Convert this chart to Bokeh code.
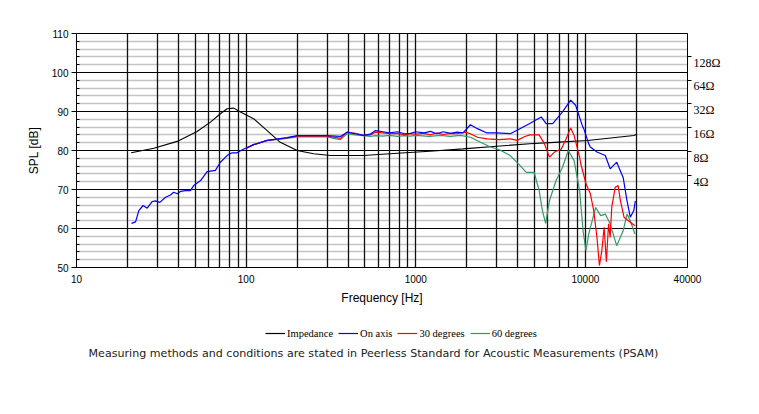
import numpy as np
from bokeh.plotting import figure
from bokeh.layouts import column
from bokeh.models import (Range1d, LogScale, LogAxis, FixedTicker, Legend, LegendItem,
                          Label, CustomJSTickFormatter)
from bokeh.embed import file_html
from bokeh.resources import INLINE

# ---- data ----
freq_imp = [21, 28.6, 39.2, 51.4, 61.6, 70.5, 77.2, 84.5, 92.6, 110.7, 133, 159, 200, 250,
            315, 490, 780, 1210, 1900, 3000, 4700, 7000, 10300, 19300, 20000]
imp_ohm = [7.75, 8.86, 10.8, 14.4, 18.9, 24.1, 27.9, 28.4, 25.3, 20.9, 14.8, 10.5, 8.28, 7.53,
           7.16, 7.16, 7.66, 8.12, 8.70, 9.39, 10.07, 10.56, 11.09, 12.82, 13.2]

freq_on = [21.1, 22.3, 23.3, 24.7, 26.1, 27.9, 29.2, 31.0, 33.5, 35.8, 37.4, 39.2, 41, 43.9,
           46.9, 49.1, 53.9, 58.9, 65.9, 70.5, 77.2, 82.6, 88.3, 96.9, 110.7, 132.9, 174, 200,
           300, 360, 393, 440, 490, 540, 580, 640, 700, 780, 860, 930, 1000, 1120, 1220, 1330,
           1450, 1600, 1750, 1900, 2100, 2310, 2630, 3000, 3610, 4110, 4700, 5490, 5870, 6420,
           7330, 8190, 8760, 9570, 9780, 10470, 10700, 11700, 13100, 14000, 15300, 16700,
           17600, 18400, 19300, 19700]
spl_on = [61.3, 61.7, 64.6, 65.9, 65.2, 66.9, 67.1, 66.7, 68.0, 68.6, 69.3, 68.9, 69.5, 69.7,
          69.7, 71.0, 72.3, 74.6, 74.9, 77.0, 78.7, 79.4, 79.4, 80.4, 81.5, 82.6, 83.3, 83.8,
          83.8, 83.6, 84.7, 84.3, 83.9, 84.2, 85.1, 84.8, 84.5, 84.8, 84.3, 84.4, 84.8, 84.5,
          84.9, 84.3, 84.8, 84.4, 84.7, 84.5, 86.6, 85.6, 84.5, 84.5, 84.3, 85.6, 86.9, 88.6,
          86.9, 86.9, 89.9, 92.9, 91.6, 86.5, 85.6, 81.7, 80.9, 79.6, 78.7, 75.3, 77.0, 73.1,
          67.1, 62.9, 64.6, 67.1]

freq_30 = [100, 110.7, 133, 174, 200, 300, 340, 360, 393, 440, 490, 540, 580, 640, 700, 780,
           860, 930, 1000, 1120, 1220, 1330, 1450, 1600, 1750, 1960, 2100, 2310, 2630, 3110,
           3610, 3960, 4400, 4700, 5340, 5740, 6140, 6580, 7220, 7700, 8190, 8580, 9250, 9390,
           10100, 10700, 11200, 11700, 12100, 12500, 12900, 13300, 13700, 14000, 14300, 15000,
           15600, 16100, 16900, 18400, 19600]
spl_30 = [80.5, 81.5, 82.6, 83.2, 83.7, 83.7, 83.3, 83.1, 84.7, 84.4, 83.9, 84.0, 84.7, 84.5,
          84.3, 84.4, 84.0, 84.3, 84.2, 84.4, 84.0, 84.5, 84.1, 84.4, 84.3, 84.7, 84.3, 83.4,
          83.0, 82.8, 83.0, 82.6, 83.6, 84.0, 84.0, 81.7, 78.3, 79.6, 80.4, 83.0, 85.8, 83.9,
          78.3, 76.6, 71.4, 68.9, 64.6, 57.7, 50.5, 54.3, 60.3, 51.5, 61.2, 57.7, 65.4, 70.6,
          71.0, 67.1, 62.9, 61.6, 60.7]

freq_60 = [100, 110.7, 133, 174, 200, 300, 340, 360, 393, 440, 490, 540, 580, 640, 700, 780,
           860, 930, 1000, 1200, 1400, 1600, 1830, 2100, 2410, 2760, 3110, 3610, 4110, 4480,
           4990, 5340, 5580, 5830, 6140, 6720, 7330, 7930, 8580, 9250, 9690, 10080, 10470,
           11500, 12300, 13100, 14000, 15300, 16700, 17600, 18400, 19600]
spl_60 = [80.5, 81.5, 82.5, 83.1, 83.5, 83.5, 83.0, 82.8, 84.3, 84.0, 83.8, 83.6, 83.8, 83.7,
          83.9, 83.6, 83.8, 83.7, 83.9, 83.6, 83.9, 83.6, 83.9, 83.4, 82.1, 80.9, 80.2, 78.7,
          76.2, 74.4, 74.4, 69.7, 64.6, 61.3, 67.1, 72.3, 75.7, 80.0, 77.4, 69.7, 59.4, 54.3,
          58.6, 65.4, 63.3, 63.7, 61.2, 55.6, 59.4, 63.7, 62.0, 58.6]

x_ticks = [10, 100, 1000, 10000, 40000]
x_grid = [20, 30, 40, 50, 60, 70, 80, 90, 100, 200, 300, 400, 500, 600, 700, 800, 900,
          1000, 2000, 3000, 4000, 5000, 6000, 7000, 8000, 9000, 10000, 20000]
y_ticks = [50, 60, 70, 80, 90, 100, 110]
y_minor = [52, 54, 56, 58, 62, 64, 66, 68, 72, 74, 76, 78, 82, 84, 86, 88, 92, 94, 96, 98,
           102, 104, 106, 108]
imp_ticks = [4, 8, 16, 32, 64, 128]

series_names = ["Impedance", "On axis", "30 degrees", "60 degrees"]
series_colors = ["#000000", "#0000ff", "#ff0000", "#339966"]
caption = "Measuring methods and conditions are stated in Peerless Standard for Acoustic Measurements (PSAM)"

# ---- main figure ----
p = figure(width=759, height=310, x_axis_type="log",
           x_range=Range1d(10, 40000), y_range=Range1d(50, 110),
           output_backend="svg", toolbar_location=None,
           min_border_left=76, min_border_right=72, min_border_top=33, min_border_bottom=43,
           background_fill_color="white", border_fill_color="white",
           outline_line_color="black", outline_line_width=1)

p.extra_y_ranges = {"imp": Range1d(0.277, 248)}
p.extra_y_scales = {"imp": LogScale()}

# grids (horizontal drawn first, vertical lines over them)
p.ygrid.level = "image"
p.ygrid.ticker = FixedTicker(ticks=y_ticks, minor_ticks=y_minor)
p.ygrid.grid_line_color = "#000000"
p.ygrid.grid_line_width = 1.2
p.ygrid.minor_grid_line_color = "#c4c4c4"
p.ygrid.minor_grid_line_width = 1.5
p.xgrid.ticker = FixedTicker(ticks=x_grid)
p.xgrid.grid_line_color = "#111111"
p.xgrid.grid_line_width = 1.3

# x axis
xa = p.xaxis[0]
xa.ticker = FixedTicker(ticks=x_ticks)
xa.formatter = CustomJSTickFormatter(code="return tick.toFixed(0)")
xa.major_tick_out = 0
xa.major_tick_in = 0
xa.minor_tick_out = 0
xa.minor_tick_in = 0
xa.axis_line_color = "black"
xa.major_label_text_font = "Liberation Sans"
xa.major_label_text_font_size = "10px"
xa.major_label_text_color = "black"
xa.major_label_standoff = 7
xa.axis_label = "Frequency [Hz]"
xa.axis_label_text_font = "Liberation Sans"
xa.axis_label_text_font_size = "12px"
xa.axis_label_text_font_style = "normal"
xa.axis_label_text_color = "black"
xa.axis_label_standoff = 5

# left axis
ya = p.yaxis[0]
ya.ticker = FixedTicker(ticks=y_ticks, minor_ticks=y_minor)
ya.major_tick_out = 5
ya.major_tick_in = 0
ya.minor_tick_in = 3
ya.minor_tick_out = 0
ya.axis_line_color = "black"
ya.major_label_text_font = "Liberation Sans"
ya.major_label_text_font_size = "10px"
ya.major_label_text_color = "black"
ya.major_label_standoff = 3
ya.axis_label = "SPL [dB]"
ya.axis_label_text_font = "Liberation Sans"
ya.axis_label_text_font_size = "12px"
ya.axis_label_text_font_style = "normal"
ya.axis_label_text_color = "black"
ya.axis_label_standoff = 8

# right impedance axis (labels sit slightly below their ticks, as in the original)
ra = LogAxis(y_range_name="imp", ticker=FixedTicker(ticks=imp_ticks),
             formatter=CustomJSTickFormatter(code="return '\\n' + tick.toFixed(0) + '\u03a9'"))
ra.major_tick_out = 4
ra.major_tick_in = 0
ra.minor_tick_out = 0
ra.minor_tick_in = 0
ra.axis_line_color = "black"
ra.major_label_text_font = "Liberation Serif"
ra.major_label_text_font_size = "12px"
ra.major_label_text_color = "black"
ra.major_label_text_line_height = 0.9
ra.major_label_standoff = 2
p.add_layout(ra, "right")

# curves
p.line(freq_imp, imp_ohm, y_range_name="imp", line_color=series_colors[0], line_width=1.1)
p.line(freq_60, spl_60, line_color=series_colors[3], line_width=1.2)
p.line(freq_30, spl_30, line_color=series_colors[2], line_width=1.2)
p.line(freq_on, spl_on, line_color=series_colors[1], line_width=1.2)

# ---- legend + caption strip (frame aligned with the main plot's frame) ----
q = figure(width=759, height=104, x_range=Range1d(0, 759), y_range=Range1d(0, 104),
           output_backend="svg", toolbar_location=None,
           x_axis_location=None, y_axis_location=None,
           min_border=0, outline_line_color=None,
           background_fill_color="white", border_fill_color="white")
q.xgrid.visible = False
q.ygrid.visible = False

items = []
for name, col in zip(series_names, series_colors):
    r = q.line(x=np.array([np.nan]), y=np.array([np.nan]), line_color=col, line_width=1.2)
    items.append(LegendItem(label=name, renderers=[r]))

legend = Legend(items=items, orientation="horizontal", location=(189, 74),
                padding=0, margin=0, spacing=5, glyph_width=20, glyph_height=14,
                label_height=14, label_standoff=2,
                label_text_font="Liberation Serif", label_text_font_size="10.5px",
                label_text_color="black",
                border_line_alpha=0, background_fill_alpha=0)
q.add_layout(legend, "center")

q.add_layout(Label(x=12, y=61, x_units="screen", y_units="screen", text=caption,
                   text_align="left", text_baseline="middle",
                   text_font="DejaVu Sans", text_font_size="11.1px", text_color="#222222"))

layout = column(p, q, spacing=0)
open("out.html", "w").write(file_html(layout, INLINE))
